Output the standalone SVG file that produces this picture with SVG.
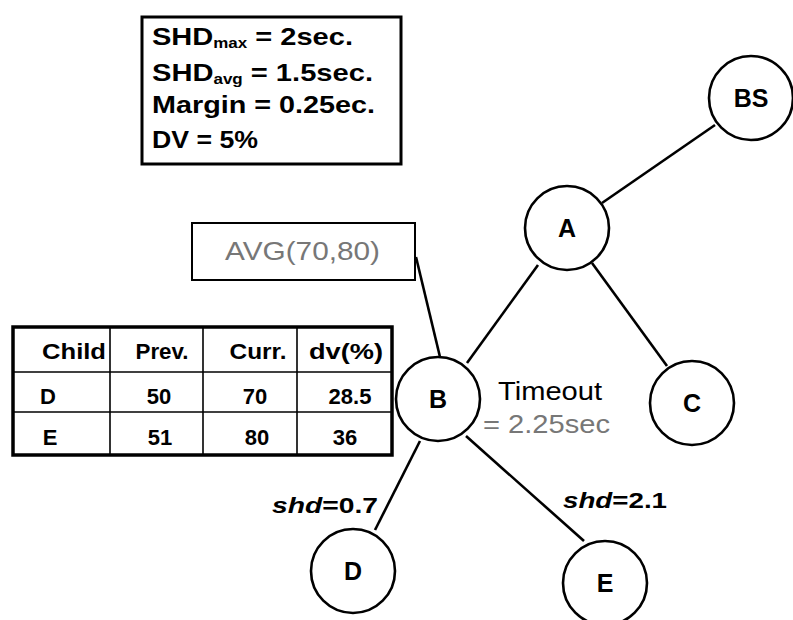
<svg xmlns="http://www.w3.org/2000/svg" width="793" height="620" viewBox="0 0 793 620">
<style>
.node circle{fill:#fff;stroke:#000;stroke-width:2.6}
.lbl{font-family:"Liberation Sans",Arial,sans-serif;font-weight:bold;font-size:25px;text-anchor:middle;fill:#000}
.edge{stroke:#000;stroke-width:2.6;fill:none}
.info{font-family:"Liberation Sans",Arial,sans-serif;font-weight:bold;font-size:24px;fill:#000}
.tb{font-family:"Liberation Sans",Arial,sans-serif;font-weight:bold;font-size:22px;fill:#000;text-anchor:middle}
.gray{font-family:"Liberation Sans",Arial,sans-serif;font-size:26px;fill:#777}
.blk{font-family:"Liberation Sans",Arial,sans-serif;font-size:26px;fill:#000}
.shd{font-family:"Liberation Sans",Arial,sans-serif;font-weight:bold;font-size:22px;fill:#000}
</style>
<rect width="793" height="620" fill="#fff"/>
<g id="connectors">
<line class="edge" x1="715" y1="125" x2="602" y2="203"/>
<line class="edge" x1="538" y1="265" x2="467" y2="363"/>
<line class="edge" x1="592" y1="263" x2="667" y2="366"/>
<line class="edge" x1="420" y1="441" x2="375" y2="530"/>
<line class="edge" x1="466" y1="436" x2="584" y2="541"/>
<line class="edge" x1="416" y1="257" x2="440" y2="357" stroke-width="2"/>
</g>
<g id="info">
<rect x="142" y="17" width="259" height="147" fill="#fff" stroke="#000" stroke-width="3"/>
<text class="info" x="152" y="45" textLength="201" lengthAdjust="spacingAndGlyphs">SHD<tspan font-size="14" dy="3">max</tspan><tspan dy="-3"> = 2sec.</tspan></text>
<text class="info" x="152" y="81" textLength="221" lengthAdjust="spacingAndGlyphs">SHD<tspan font-size="14" dy="3">avg</tspan><tspan dy="-3"> = 1.5sec.</tspan></text>
<text class="info" x="152" y="113" textLength="223" lengthAdjust="spacingAndGlyphs">Margin = 0.25ec.</text>
<text class="info" x="152" y="148" textLength="106" lengthAdjust="spacingAndGlyphs">DV = 5%</text>
</g>
<g id="avg">
<rect x="192" y="223" width="223" height="57" fill="#fff" stroke="#000" stroke-width="2"/>
<text class="gray" x="225" y="260" textLength="155" lengthAdjust="spacingAndGlyphs">AVG(70,80)</text>
</g>
<g id="table">
<rect x="13" y="327" width="379" height="128" fill="#fff" stroke="#000" stroke-width="3.5"/>
<g stroke="#000" stroke-width="1.6">
<line x1="110" y1="327" x2="110" y2="455"/>
<line x1="203" y1="327" x2="203" y2="455"/>
<line x1="297" y1="327" x2="297" y2="455"/>
<line x1="13" y1="372" x2="392" y2="372"/>
<line x1="13" y1="412" x2="392" y2="412"/>
</g>
<text class="tb" x="74" y="359" textLength="64" lengthAdjust="spacingAndGlyphs">Child</text>
<text class="tb" x="162" y="359" textLength="53" lengthAdjust="spacingAndGlyphs">Prev.</text>
<text class="tb" x="258" y="359" textLength="57" lengthAdjust="spacingAndGlyphs">Curr.</text>
<text class="tb" x="346" y="359" textLength="74" lengthAdjust="spacingAndGlyphs">dv(%)</text>
<text class="tb" x="48" y="404">D</text>
<text class="tb" x="159" y="404">50</text>
<text class="tb" x="255" y="404">70</text>
<text class="tb" x="350" y="404" font-weight="normal" fill="#777">28.5</text>
<text class="tb" x="50" y="445">E</text>
<text class="tb" x="160" y="445">51</text>
<text class="tb" x="257" y="445">80</text>
<text class="tb" x="345" y="445">36</text>
</g>
<g id="node-BS" class="node"><circle cx="751" cy="98" r="42"/><text class="lbl" x="751" y="107">BS</text></g>
<g id="node-A" class="node"><circle cx="567" cy="228" r="42"/><text class="lbl" x="567" y="237">A</text></g>
<g id="node-B" class="node"><circle cx="438" cy="399" r="42"/><text class="lbl" x="438" y="408">B</text></g>
<g id="node-C" class="node"><circle cx="692" cy="403" r="42"/><text class="lbl" x="692" y="412">C</text></g>
<g id="node-D" class="node"><circle cx="353" cy="571" r="42"/><text class="lbl" x="353" y="580">D</text></g>
<g id="node-E" class="node"><circle cx="605" cy="583" r="42"/><text class="lbl" x="605" y="592">E</text></g>
<g id="timeout">
<text class="blk" x="498" y="400" textLength="104" lengthAdjust="spacingAndGlyphs">Timeout</text>
<text class="gray" x="483" y="433" textLength="127" lengthAdjust="spacingAndGlyphs">= 2.25sec</text>
</g>
<g id="edge-labels">
<text class="shd" x="272" y="513" textLength="106" lengthAdjust="spacingAndGlyphs"><tspan font-style="italic">shd</tspan>=0.7</text>
<text class="shd" x="563" y="508" textLength="104" lengthAdjust="spacingAndGlyphs"><tspan font-style="italic">shd</tspan>=2.1</text>
</g>
</svg>
